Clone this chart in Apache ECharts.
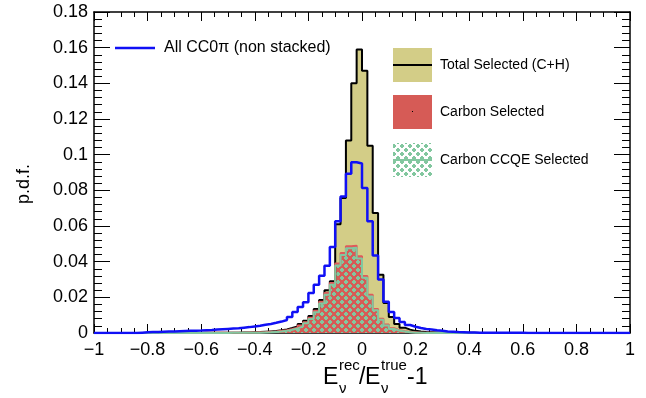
<!DOCTYPE html>
<html>
<head>
<meta charset="utf-8">
<script src="https://cdn.jsdelivr.net/npm/echarts@6/dist/echarts.min.js"></script>
<style>
html, body { margin: 0; padding: 0; background: #fff; }
#chart { width: 646px; height: 398px; }
</style>
</head>
<body>
<div id="chart"></div>
<script>
// binning of the histograms: 100 bins of 0.02 from -1 to 1
const binLow = -1;
const binWidth = 0.02;

const allCC0pi = [
  0, 0, 0, 0, 0, 0, 0, 0, 0.0002, 0.0004,
  0.0005, 0.0006, 0.0007, 0.0008, 0.0009, 0.0010, 0.0011, 0.0012, 0.0013, 0.0014,
  0.0016, 0.0017, 0.0019, 0.0021, 0.0023, 0.0025, 0.0027, 0.0030, 0.0033, 0.0037,
  0.0041, 0.0046, 0.0051, 0.0057, 0.0064, 0.0073, 0.0090, 0.0118, 0.0146, 0.0172,
  0.0224, 0.0271, 0.0321, 0.0377, 0.0482, 0.0626, 0.0766, 0.0893, 0.0957, 0.0950,
  0.0813, 0.0626, 0.0435, 0.0300, 0.0175, 0.0118, 0.0084, 0.0062, 0.0045, 0.0035,
  0.0028, 0.0023, 0.0019, 0.0015, 0.0012, 0.0009, 0.0007, 0.0005, 0.0004, 0.0003,
  0.0003, 0.0002, 0.0002, 0.0001, 0.0001, 0.0001, 0.0001, 0.0001, 0.0001, 0.0001,
  0, 0, 0, 0, 0, 0, 0, 0, 0, 0,
  0, 0, 0, 0, 0, 0, 0, 0, 0, 0
];

const totalSelected = [
  0, 0, 0, 0, 0, 0, 0, 0, 0, 0,
  0, 0, 0, 0, 0, 0, 0, 0, 0, 0,
  0.0001, 0.0001, 0.0001, 0.0001, 0.0001, 0.0002, 0.0002, 0.0003, 0.0003, 0.0004,
  0.0005, 0.0007, 0.0009, 0.0011, 0.0015, 0.0020, 0.0028, 0.0037, 0.0050, 0.0068,
  0.0095, 0.0135, 0.0185, 0.0240, 0.0290, 0.0610, 0.0757, 0.1080, 0.1400, 0.1590,
  0.1470, 0.1050, 0.0673, 0.0327, 0.0168, 0.0090, 0.0050, 0.0030, 0.0019, 0.0012,
  0.0008, 0.0005, 0.0004, 0.0003, 0.0002, 0.0001, 0.0001, 0.0001, 0.0001, 0.0001,
  0.0001, 0, 0, 0, 0, 0, 0, 0, 0, 0,
  0, 0, 0, 0, 0, 0, 0, 0, 0, 0,
  0, 0, 0, 0, 0, 0, 0, 0, 0, 0
];

const carbonSelected = [
  0, 0, 0, 0, 0, 0, 0, 0, 0, 0,
  0, 0, 0, 0, 0, 0, 0, 0, 0, 0,
  0.0001, 0.0001, 0.0001, 0.0001, 0.0001, 0.0001, 0.0002, 0.0002, 0.0003, 0.0003,
  0.0004, 0.0005, 0.0007, 0.0009, 0.0012, 0.0016, 0.0022, 0.0030, 0.0042, 0.0060,
  0.0085, 0.0125, 0.0175, 0.0225, 0.0280, 0.0390, 0.0449, 0.0486, 0.0490, 0.0430,
  0.0320, 0.0215, 0.0135, 0.0080, 0.0047, 0.0027, 0.0016, 0.0010, 0.0006, 0.0004,
  0.0002, 0.0001, 0.0001, 0, 0, 0, 0, 0, 0, 0,
  0, 0, 0, 0, 0, 0, 0, 0, 0, 0,
  0, 0, 0, 0, 0, 0, 0, 0, 0, 0,
  0, 0, 0, 0, 0, 0, 0, 0, 0, 0
];

const carbonCCQE = [
  0, 0, 0, 0, 0, 0, 0, 0, 0, 0,
  0, 0, 0, 0, 0, 0, 0, 0, 0, 0,
  0, 0, 0, 0, 0, 0.0001, 0.0001, 0.0001, 0.0001, 0.0001,
  0.0002, 0.0003, 0.0004, 0.0006, 0.0008, 0.0012, 0.0018, 0.0026, 0.0037, 0.0054,
  0.0078, 0.0117, 0.0166, 0.0215, 0.0270, 0.0378, 0.0437, 0.0475, 0.0478, 0.0418,
  0.0310, 0.0205, 0.0127, 0.0074, 0.0042, 0.0023, 0.0013, 0.0008, 0.0004, 0.0002,
  0.0001, 0, 0, 0, 0, 0, 0, 0, 0, 0,
  0, 0, 0, 0, 0, 0, 0, 0, 0, 0,
  0, 0, 0, 0, 0, 0, 0, 0, 0, 0,
  0, 0, 0, 0, 0, 0, 0, 0, 0, 0
];

const seriesNames = ['Total Selected (C+H)', 'Carbon Selected', 'Carbon CCQE Selected', 'All CC0\u03c0 (non stacked)'];

const KHAKI = '#d3cd87';
const RED = '#d65b56';
const GREEN = '#82c79f';
const BLUE = '#1010f5';
const FONT = 'Liberation Sans, Arial, sans-serif';

// step outline of a histogram: one point at each low edge, closed to 0 at both ends
function toSteps(vals) {
  const pts = [[binLow, 0]];
  vals.forEach((v, i) => pts.push([binLow + i * binWidth, v]));
  const hi = binLow + vals.length * binWidth;
  pts.push([hi, vals[vals.length - 1]]);
  pts.push([hi, 0]);
  return pts;
}

// staggered green crosses, like the ROOT fill pattern
function crossPattern(bg) {
  const c = document.createElement('canvas');
  c.width = 8; c.height = 8;
  const g = c.getContext('2d');
  if (bg) { g.fillStyle = bg; g.fillRect(0, 0, 8, 8); }
  g.fillStyle = GREEN;
  g.fillRect(0, 1, 4, 2); g.fillRect(1, 0, 2, 4);
  g.fillRect(4, 5, 4, 2); g.fillRect(5, 4, 2, 4);
  return c;
}

const minus = v => String(v).replace('-', '\u2212');

const chart = echarts.init(document.getElementById('chart'));

const hist = (name, vals, fill, line, width) => ({
  name: name,
  type: 'line',
  step: 'end',
  data: toSteps(vals),
  symbol: 'none',
  silent: true,
  animation: false,
  itemStyle: { color: line },
  lineStyle: { color: line, width: width },
  areaStyle: fill ? { color: fill, opacity: 1 } : undefined
});

const xAxisBase = {
  type: 'value', min: -1, max: 1, interval: 0.2,
  splitLine: { show: false },
  axisLine: { show: true, onZero: false, lineStyle: { color: '#000', width: 1.5 } },
  axisTick: { show: true, inside: true, length: 9, lineStyle: { color: '#000', width: 1 } },
  minorTick: { show: true, splitNumber: 4, length: 5, lineStyle: { color: '#000', width: 1 } }
};
const yAxisBase = {
  type: 'value', min: 0, max: 0.18, interval: 0.02,
  splitLine: { show: false },
  axisLine: { show: true, onZero: false, lineStyle: { color: '#000', width: 1.5 } },
  axisTick: { show: true, inside: true, length: 16, lineStyle: { color: '#000', width: 1 } },
  minorTick: { show: true, splitNumber: 5, length: 8, lineStyle: { color: '#000', width: 1 } }
};

const titleParts = [
  { t: 'E', x: 323, y: 378, s: 23 },
  { t: 'rec', x: 339, y: 366, s: 15 },
  { t: '\u03bd', x: 339, y: 389, s: 15 },
  { t: '/', x: 359, y: 378, s: 23 },
  { t: 'E', x: 365, y: 378, s: 23 },
  { t: 'true', x: 381, y: 366, s: 15 },
  { t: '\u03bd', x: 381, y: 389, s: 15 },
  { t: '-1', x: 407, y: 378, s: 23 }
];

const legendRows = [
  { y: 48, name: seriesNames[0] },
  { y: 95, name: seriesNames[1] },
  { y: 143, name: seriesNames[2] }
];

chart.setOption({
  backgroundColor: '#fff',
  animation: false,
  grid: { left: 94, right: 16, top: 12, bottom: 65 },
  legend: {
    data: [{ name: seriesNames[3], icon: 'rect' }],
    left: 110, top: 35,
    itemWidth: 40, itemHeight: 2.5, itemGap: 8,
    textStyle: { fontFamily: FONT, fontSize: 16, color: '#000', padding: [0, 0, 0, 4] }
  },
  xAxis: [
    Object.assign({}, xAxisBase, {
      position: 'bottom',
      axisLabel: { color: '#000', fontFamily: FONT, fontSize: 18, margin: 8, formatter: minus }
    }),
    Object.assign({}, xAxisBase, { position: 'top', axisLabel: { show: false } })
  ],
  yAxis: [
    Object.assign({}, yAxisBase, {
      position: 'left',
      axisLabel: { color: '#000', fontFamily: FONT, fontSize: 18, margin: 6 }
    }),
    Object.assign({}, yAxisBase, { position: 'right', axisLabel: { show: false } })
  ],
  series: [
    hist(seriesNames[0], totalSelected, KHAKI, '#000', 2),
    hist(seriesNames[1], carbonSelected, RED, '#e05a5a', 2),
    hist(seriesNames[2], carbonCCQE, { image: crossPattern(null), repeat: 'repeat' }, GREEN, 2),
    hist(seriesNames[3], allCC0pi, null, BLUE, 2.5)
  ],
  graphic: [
    {
      type: 'text', left: 15, top: 164, rotation: Math.PI / 2,
      style: { text: 'p.d.f.', font: '18px ' + FONT, fill: '#000' }
    },
    ...titleParts.map(p => ({
      type: 'text', x: p.x, y: p.y,
      style: { text: p.t, font: p.s + 'px ' + FONT, fill: '#000', verticalAlign: 'middle' }
    })),
    { type: 'rect', shape: { x: 393, y: 48, width: 39, height: 34 }, style: { fill: KHAKI } },
    { type: 'line', shape: { x1: 393, y1: 65, x2: 432, y2: 65 }, style: { stroke: '#000', lineWidth: 2 } },
    { type: 'rect', shape: { x: 393, y: 95, width: 39, height: 34 }, style: { fill: RED } },
    { type: 'rect', shape: { x: 412, y: 111, width: 1, height: 1 }, style: { fill: '#000' } },
    { type: 'rect', shape: { x: 393, y: 143, width: 39, height: 34 }, style: { fill: { image: crossPattern('#fff'), repeat: 'repeat' } } },
    { type: 'line', shape: { x1: 393, y1: 160, x2: 432, y2: 160 }, style: { stroke: GREEN, lineWidth: 2 } },
    ...legendRows.map(r => ({
      type: 'text', x: 440, y: r.y + 17,
      style: { text: r.name, font: '14px ' + FONT, fill: '#000', verticalAlign: 'middle' }
    }))
  ]
});
</script>
</body>
</html>
